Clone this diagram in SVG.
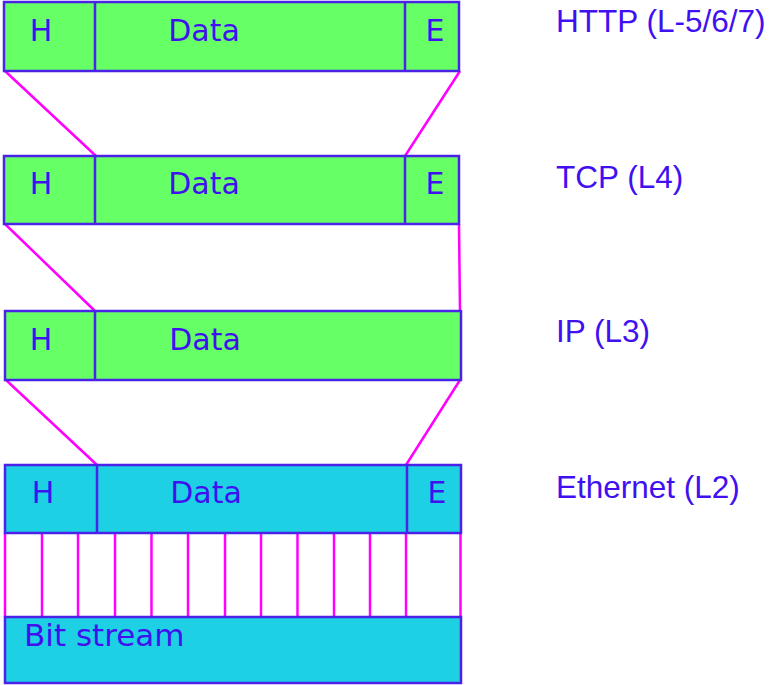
<svg xmlns="http://www.w3.org/2000/svg" width="769" height="685" viewBox="0 0 769 685">
  <style>
    .green { fill: #66ff66; stroke: #4a22e8; stroke-width: 2.5; }
    .cyan { fill: #1dd0e4; stroke: #4a22e8; stroke-width: 2.5; }
    .div { stroke: #4a22e8; stroke-width: 2.5; fill: none; }
    .link { stroke: #ff00ff; stroke-width: 2.5; fill: none; }
    .cell { font-family: "DejaVu Sans", Verdana, sans-serif; font-size: 30px; fill: #4010f0; text-anchor: middle; }
    .bits { font-family: "DejaVu Sans", Verdana, sans-serif; font-size: 31px; fill: #4010f0; }
    .layer { font-family: "Liberation Sans", Arial, sans-serif; font-size: 31.5px; fill: #4010f0; }
  </style>
  <rect width="769" height="685" fill="#ffffff"/>

  <!-- connectors between layers -->
  <g id="connectors">
    <line class="link" x1="5" y1="71" x2="96" y2="156"/>
    <line class="link" x1="460" y1="71" x2="405" y2="156"/>
    <line class="link" x1="5" y1="224" x2="95" y2="311"/>
    <line class="link" x1="459" y1="224" x2="460" y2="311"/>
    <line class="link" x1="6" y1="380" x2="97" y2="465"/>
    <line class="link" x1="460" y1="380" x2="406" y2="465"/>
    <g id="bit-lines">
      <line class="link" x1="5" y1="533" x2="5" y2="617"/>
      <line class="link" x1="42" y1="533" x2="42" y2="617"/>
      <line class="link" x1="78" y1="533" x2="78" y2="617"/>
      <line class="link" x1="115" y1="533" x2="115" y2="617"/>
      <line class="link" x1="151.5" y1="533" x2="151.5" y2="617"/>
      <line class="link" x1="188" y1="533" x2="188" y2="617"/>
      <line class="link" x1="225" y1="533" x2="225" y2="617"/>
      <line class="link" x1="261" y1="533" x2="261" y2="617"/>
      <line class="link" x1="297.5" y1="533" x2="297.5" y2="617"/>
      <line class="link" x1="334" y1="533" x2="334" y2="617"/>
      <line class="link" x1="370" y1="533" x2="370" y2="617"/>
      <line class="link" x1="406" y1="533" x2="406" y2="617"/>
      <line class="link" x1="460.5" y1="533" x2="460.5" y2="617"/>
    </g>
  </g>

  <!-- HTTP frame -->
  <g id="http">
    <rect class="green" x="4" y="2" width="455" height="69"/>
    <line class="div" x1="95" y1="2" x2="95" y2="71"/>
    <line class="div" x1="405" y1="2" x2="405" y2="71"/>
    <text class="cell" x="41" y="41">H</text>
    <text class="cell" x="204" y="41">Data</text>
    <text class="cell" x="435" y="41">E</text>
  </g>

  <!-- TCP segment -->
  <g id="tcp">
    <rect class="green" x="4" y="156" width="455" height="68"/>
    <line class="div" x1="95" y1="156" x2="95" y2="224"/>
    <line class="div" x1="405" y1="156" x2="405" y2="224"/>
    <text class="cell" x="41" y="194">H</text>
    <text class="cell" x="204" y="194">Data</text>
    <text class="cell" x="435" y="194">E</text>
  </g>

  <!-- IP packet -->
  <g id="ip">
    <rect class="green" x="5" y="311" width="456" height="69"/>
    <line class="div" x1="95" y1="311" x2="95" y2="380"/>
    <text class="cell" x="41" y="350">H</text>
    <text class="cell" x="205" y="350">Data</text>
  </g>

  <!-- Ethernet frame -->
  <g id="ethernet">
    <rect class="cyan" x="5" y="465" width="456" height="68"/>
    <line class="div" x1="97" y1="465" x2="97" y2="533"/>
    <line class="div" x1="407" y1="465" x2="407" y2="533"/>
    <text class="cell" x="43" y="503">H</text>
    <text class="cell" x="206" y="503">Data</text>
    <text class="cell" x="437" y="503">E</text>
  </g>

  <!-- physical bit stream -->
  <g id="bitstream">
    <rect class="cyan" x="5" y="617" width="456" height="66"/>
    <text class="bits" x="24" y="646">Bit stream</text>
  </g>

  <!-- layer names -->
  <g id="labels">
    <text class="layer" x="556" y="32">HTTP (L-5/6/7)</text>
    <text class="layer" x="556" y="188">TCP (L4)</text>
    <text class="layer" x="556" y="342">IP (L3)</text>
    <text class="layer" x="556" y="498">Ethernet (L2)</text>
  </g>
</svg>
